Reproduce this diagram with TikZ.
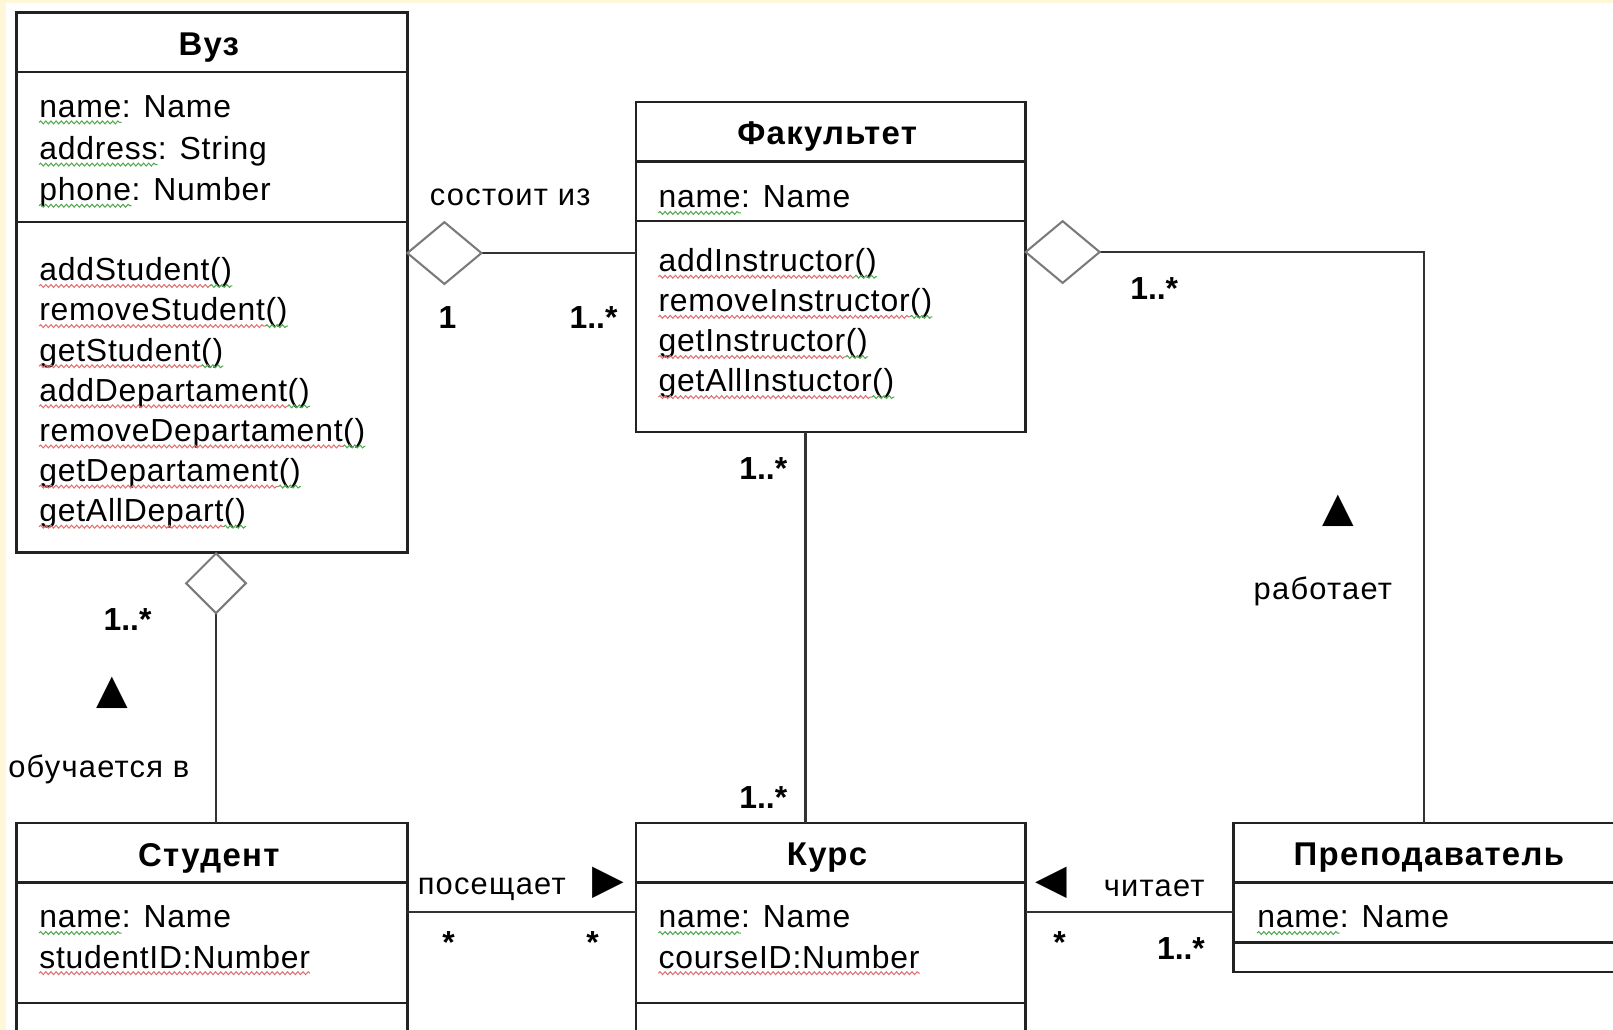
\documentclass[tikz,border=0pt]{standalone}
\usepackage{fontspec}
\setmainfont{Liberation Sans}
\newfontfamily\symf{DejaVu Sans}
\newfontfamily\txtf[LetterSpace=2.5]{Liberation Sans}
\newfontfamily\lblf[LetterSpace=4]{Liberation Sans}
\newfontfamily\ttlf[LetterSpace=4,BoldFont={Liberation Sans Bold}]{Liberation Sans}
\usetikzlibrary{decorations.pathmorphing}
\definecolor{boxc}{HTML}{222222}
\definecolor{linec}{HTML}{333333}
\definecolor{aggc}{HTML}{7A7A7A}
\definecolor{wred}{HTML}{E07070}
\definecolor{wgreen}{HTML}{50A850}
\definecolor{edgey}{HTML}{FFF8D8}
% attribute: green wave under the name
\newcommand\attrline[4]{%
  \node[txt] (#1a) at #2 {#3};
  \node[txt] (#1b) at (#1a.base east) {#4};
  \draw[wavy, wgreen] ([yshift=-5pt]#1a.base west) -- ([yshift=-5pt]#1a.base east);}
% method: red wave under identifier, green under ()
\newcommand\methline[3]{%
  \node[txt] (#1a) at #2 {#3};
  \node[txt] (#1b) at (#1a.base east) {()};
  \draw[wavy, wred] ([yshift=-5pt]#1a.base west) -- ([yshift=-5pt]#1a.base east);
  \draw[wavy, wgreen] ([yshift=-5pt]#1b.base west) -- ([yshift=-5pt]#1b.base east);}
% red wave under the whole text
\newcommand\redline[3]{%
  \node[txt] (#1a) at #2 {#3};
  \draw[wavy, wred] ([yshift=-5pt]#1a.base west) -- ([yshift=-5pt]#1a.base east);}
\begin{document}
\begin{tikzpicture}[x=1pt,y=-1pt,
  box/.style={draw=boxc, line width=2.4pt},
  conn/.style={draw=linec, line width=2pt},
  agg/.style={draw=aggc, line width=2pt, fill=white, line join=miter},
  title/.style={font=\ttlf\fontsize{32}{36}\selectfont\bfseries, inner sep=0pt},
  txt/.style={font=\txtf\fontsize{31}{36}\selectfont, anchor=base west, inner sep=0pt},
  wavy/.style={line width=1pt, decorate, decoration={snake, amplitude=1.4pt, segment length=5pt}},
  mult/.style={font=\fontsize{31}{36}\selectfont\bfseries, inner sep=0pt},
  lbl/.style={font=\lblf\fontsize{30}{36}\selectfont, inner sep=0pt},
  tri/.style={font=\symf\fontsize{40}{40}\selectfont, inner sep=0pt}]
\useasboundingbox (0,0) rectangle (1568,1001);
\fill[white] (0,0) rectangle (1568,1001);
\fill[edgey] (0,0) rectangle (6,1001);
\fill[edgey] (0,0) rectangle (1568,3);

% ---------- Вуз ----------
\coordinate (vuzNW) at (16,12);
\coordinate (vuzSE) at (396,537);
\draw[box] (vuzNW) rectangle (vuzSE);
\draw[box] (16,70) -- (396,70);
\draw[box] (16,216) -- (396,216);
\node[title] (vuzT) at (203,46) {Вуз};
\attrline{vuzA1}{(38,114)}{name}{: Name}
\attrline{vuzA2}{(38,155)}{address}{: String}
\attrline{vuzA3}{(38,195)}{phone}{: Number}
\methline{vuzM1}{(38,273)}{addStudent}
\methline{vuzM2}{(38,312)}{removeStudent}
\methline{vuzM3}{(38,351)}{getStudent}
\methline{vuzM4}{(38,390)}{addDepartament}
\methline{vuzM5}{(38,429)}{removeDepartament}
\methline{vuzM6}{(38,468)}{getDepartament}
\methline{vuzM7}{(38,507)}{getAllDepart}

% ---------- Факультет ----------
\coordinate (fakNW) at (618,99);
\coordinate (fakSE) at (997,420);
\draw[box] (fakNW) rectangle (fakSE);
\draw[box] (618,157) -- (997,157);
\draw[box] (618,215) -- (997,215);
\node[title] (fakT) at (804,133) {Факультет};
\attrline{fakA1}{(640,202)}{name}{: Name}
\methline{fakM1}{(640,264)}{addInstructor}
\methline{fakM2}{(640,303)}{removeInstructor}
\methline{fakM3}{(640,342)}{getInstructor}
\methline{fakM4}{(640,381)}{getAllInstuctor}

% ---------- Студент ----------
\coordinate (stNW) at (16,800);
\coordinate (stNE) at (396,800);
\draw[box] (16,1003) -- (stNW) -- (stNE) -- (396,1003);
\draw[box] (16,858) -- (396,858);
\draw[box] (16,975) -- (396,975);
\node[title] (stT) at (203,834) {Студент};
\attrline{stA1}{(38,902)}{name}{: Name}
\redline{stA2}{(38,941)}{studentID:Number}

% ---------- Курс ----------
\coordinate (kuNW) at (618,800);
\coordinate (kuNE) at (997,800);
\draw[box] (618,1003) -- (kuNW) -- (kuNE) -- (997,1003);
\draw[box] (618,858) -- (997,858);
\draw[box] (618,975) -- (997,975);
\node[title] (kuT) at (804,834) {Курс};
\attrline{kuA1}{(640,902)}{name}{: Name}
\redline{kuA2}{(640,941)}{courseID:Number}

% ---------- Преподаватель ----------
\coordinate (prNW) at (1199,800);
\coordinate (prSW) at (1199,945);
\draw[box] (1570,800) -- (prNW) -- (prSW) -- (1570,945);
\draw[box] (1199,858) -- (1570,858);
\draw[box] (1199,916) -- (1570,916);
\node[title] (prT) at (1389,834) {Преподаватель};
\attrline{prA1}{(1222,902)}{name}{: Name}

% ---------- connectors ----------
% Вуз -- Факультет
\coordinate (d1l) at (396,246);
\coordinate (d1r) at (468,246);
\coordinate (f1) at (618,246);
\draw[conn] (d1r) -- (f1);
\draw[agg] (d1l) -- (432,216) -- (d1r) -- (432,276) -- cycle;
\node[lbl] (l1) at (496,192) {состоит из};
\node[mult] (m1) at (435,309) {1};
\node[mult] (m2) at (577,309) {1..*};

% Факультет -- Преподаватель
\coordinate (d2l) at (997,245);
\coordinate (d2r) at (1069,245);
\coordinate (bend) at (1384,245);
\coordinate (prTop) at (1384,800);
\draw[conn] (d2r) -- (bend) -- (prTop);
\draw[agg] (d2l) -- (1033,215) -- (d2r) -- (1033,275) -- cycle;
\node[mult] (m3) at (1122,280) {1..*};
\node[tri] (t1) at (1301,497) {▲};
\node[lbl] (l2) at (1286,575) {работает};

% Вуз -- Студент
\coordinate (d3t) at (210,538);
\coordinate (d3b) at (210,596);
\coordinate (stTop) at (210,800);
\draw[conn] (d3b) -- (stTop);
\draw[agg] (d3t) -- (239,567) -- (d3b) -- (181,567) -- cycle;
\node[mult] (m4) at (124,602) {1..*};
\node[tri] (t2) at (109,673) {▲};
\node[lbl] (l3) at (96,748) {обучается в};

% Факультет -- Курс
\coordinate (fkB) at (783,420);
\coordinate (kuTop) at (783,800);
\draw[conn] (fkB) -- (kuTop);
\node[mult] (m5) at (742,455) {1..*};
\node[mult] (m6) at (742,775) {1..*};

% Студент -- Курс
\coordinate (stR) at (396,887);
\coordinate (kuL) at (618,887);
\draw[conn] (stR) -- (kuL);
\node[lbl] (l4) at (478,864) {посещает};
\node[tri] (t3) at (591,858) {▶};
\node[mult] (m7) at (436,916) {*};
\node[mult] (m8) at (576,916) {*};

% Курс -- Преподаватель
\coordinate (kuR) at (997,887);
\coordinate (prL) at (1199,887);
\draw[conn] (kuR) -- (prL);
\node[tri] (t4) at (1022,858) {◀};
\node[lbl] (l5) at (1122,864) {читает};
\node[mult] (m9) at (1030,916) {*};
\node[mult] (m10) at (1148,922) {1..*};
\end{tikzpicture}
\end{document}
